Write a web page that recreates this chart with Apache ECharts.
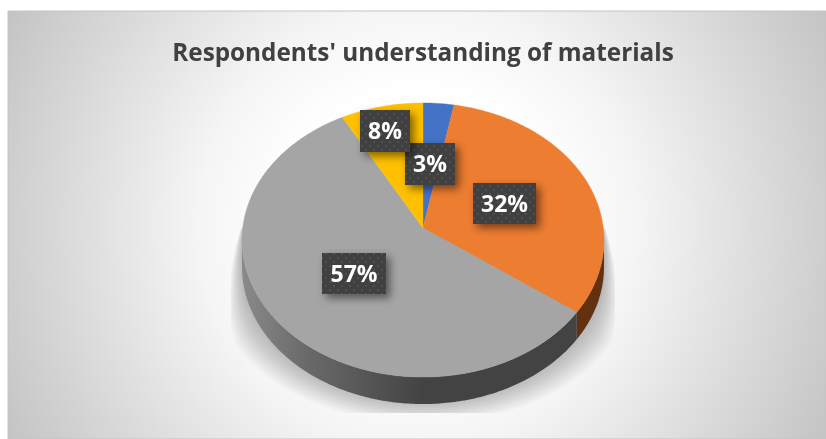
<!DOCTYPE html>
<html>
<head>
<meta charset="utf-8">
<style>html,body{margin:0;padding:0;background:#fff}#chart{width:826px;height:439px}</style>
<script src="https://cdn.jsdelivr.net/npm/echarts@6/dist/echarts.min.js"></script>
</head>
<body>
<div id="chart"></div>
<script>
// Survey shares, in percent, clockwise from twelve o'clock
const categories = ['Very good', 'Good', 'Fair', 'Poor'];
const shares = [3, 32, 57, 8];
const topColors = ['#4472c4', '#ed7d31', '#a5a5a5', '#ffc000'];
const titleText = "Respondents' understanding of materials";
// Centres and sizes of the value tags [cx, cy, w, h]
const tagBoxes = [[430, 164, 50, 42], [504.5, 203.5, 63, 41], [354, 273.5, 64, 41], [385, 131, 50, 42]];

// Tilted-disc projection of a unit circle onto the page
const CX = 423, CY = 228, RX = 180.3, RY = 136, PERSP = 0.0876, DEPTH = 27;
function project(deg, dy) {
  const a = deg * Math.PI / 180, u = Math.sin(a), v = Math.cos(a), w = 1 + PERSP * v;
  return [CX + RX * u / w, CY - RY * v / w + (dy || 0)];
}
function arc(from, to, dy) {
  const pts = [], n = Math.max(2, Math.ceil((to - from) / 0.75));
  for (let i = 0; i <= n; i++) pts.push(project(from + (to - from) * i / n, dy));
  return pts;
}
const total = shares.reduce((a, b) => a + b, 0);
let running = 0;
const spans = shares.map(s => { const start = running; running += s; return [start / total * 360, running / total * 360]; });

// Only the front part of the rim is visible between the two silhouette points
const RIM_FROM = 95, RIM_TO = 265;
function wallPoints(from, to) {
  const front = arc(from, to, 0), back = arc(from, to, DEPTH).reverse();
  return front.concat(back);
}
const wallFills = [
  '#2a4478',
  '#63310f',
  new echarts.graphic.LinearGradient(242, 0, 423, 0, [
    { offset: 0, color: '#8a8a8a' }, { offset: 0.35, color: '#6a6a6a' }, { offset: 1, color: '#434343' }
  ], true),
  '#7f6000'
];

// Cast shadow: nested translucent outlines that taper towards the disc's sides,
// cut off by a box around the disc
const SHADOW_LAYERS = 14, SHADOW_REACH = 26;
const SHADOW_BOX = { left: 231, right: 615, top: 228, bottom: 413 };
const clamp01 = t => Math.min(1, Math.max(0, t));
function shadowOutline(grow) {
  const pts = [];
  for (let deg = 78; deg <= 282; deg += 1) {
    const off = Math.abs(deg - 180);
    const spread = clamp01((100 - off) / 40), drop = clamp01((102 - off) / 30);
    const p = project(deg, DEPTH * drop + (grow * 0.9 - 4) * spread);
    const k = 1 + grow * spread / RX;
    pts.push([
      Math.min(SHADOW_BOX.right, Math.max(SHADOW_BOX.left, CX + (p[0] - CX) * k)),
      Math.min(SHADOW_BOX.bottom, Math.max(SHADOW_BOX.top, p[1]))
    ]);
  }
  return pts;
}

// Diagonal dot texture for the value tags
const dots = document.createElement('canvas');
dots.width = 8; dots.height = 8;
(function () {
  const c = dots.getContext('2d');
  c.fillStyle = '#404040'; c.fillRect(0, 0, 8, 8);
  c.fillStyle = '#505050';
  c.fillRect(1, 1, 2, 2); c.fillRect(5, 5, 2, 2);
})();

const chart = echarts.init(document.getElementById('chart'), null, { renderer: 'canvas' });
chart.setOption({
  animation: false,
  backgroundColor: '#ffffff',
  title: {
    text: titleText, left: 418, top: 37, textAlign: 'center',
    textStyle: { fontFamily: 'Open Sans', fontWeight: 'bold', fontSize: 24.3, color: '#404040' }
  },
  graphic: [{
    // Plate with a centred round glow
    type: 'rect', z: -5, silent: true,
    shape: { x: 8, y: 11, width: 818, height: 428 },
    style: {
      stroke: '#c4c4c4', lineWidth: 1,
      fill: new echarts.graphic.RadialGradient(417, 225, 480, [
        { offset: 0, color: '#ffffff' }, { offset: 0.3, color: '#fefefe' },
        { offset: 0.454, color: '#f5f5f5' }, { offset: 1, color: '#c0c0c0' }
      ], true)
    }
  }],
  series: [{
    type: 'custom', coordinateSystem: 'none', silent: true, z: 2,
    data: [total],
    renderItem() {
      const children = [];
      for (let i = 0; i < SHADOW_LAYERS; i++) {
        children.push({
          type: 'polygon',
          shape: { points: shadowOutline(SHADOW_REACH * (i + 1) / SHADOW_LAYERS) },
          style: { fill: 'rgba(0,0,0,0.018)' }
        });
      }
      return { type: 'group', children };
    }
  }, {
    // Side wall of the disc
    type: 'custom', coordinateSystem: 'none', silent: true, z: 3,
    data: shares,
    renderItem(params) {
      const s = spans[params.dataIndex];
      const from = Math.max(s[0], RIM_FROM), to = Math.min(s[1], RIM_TO);
      if (to <= from) return null;
      return { type: 'polygon', shape: { points: wallPoints(from, to) }, style: { fill: wallFills[params.dataIndex] } };
    }
  }, {
    // Top face slices
    type: 'custom', coordinateSystem: 'none', silent: true, z: 4,
    data: shares,
    renderItem(params) {
      const s = spans[params.dataIndex];
      return {
        type: 'polygon',
        shape: { points: [[CX, CY]].concat(arc(s[0], s[1], 0)) },
        style: { fill: topColors[params.dataIndex], stroke: topColors[params.dataIndex], lineWidth: 0.4 }
      };
    }
  }, {
    // Value tags
    type: 'custom', coordinateSystem: 'none', silent: true, z: 5,
    data: shares,
    renderItem(params, api) {
      const b = tagBoxes[params.dataIndex];
      return {
        type: 'group',
        children: [{
          type: 'rect',
          shape: { x: b[0] - b[2] / 2, y: b[1] - b[3] / 2, width: b[2], height: b[3] },
          style: {
            fill: { image: dots, repeat: 'repeat' },
            shadowBlur: 8, shadowOffsetX: 4, shadowOffsetY: 4, shadowColor: 'rgba(0,0,0,0.5)'
          }
        }, {
          type: 'text',
          style: {
            x: b[0], y: b[1] + 1.5, text: api.value(0) + '%', align: 'center', verticalAlign: 'middle',
            fontFamily: 'Open Sans', fontWeight: 'bold', fontSize: 23, fill: '#ffffff'
          }
        }]
      };
    }
  }]
});
</script>
</body>
</html>
